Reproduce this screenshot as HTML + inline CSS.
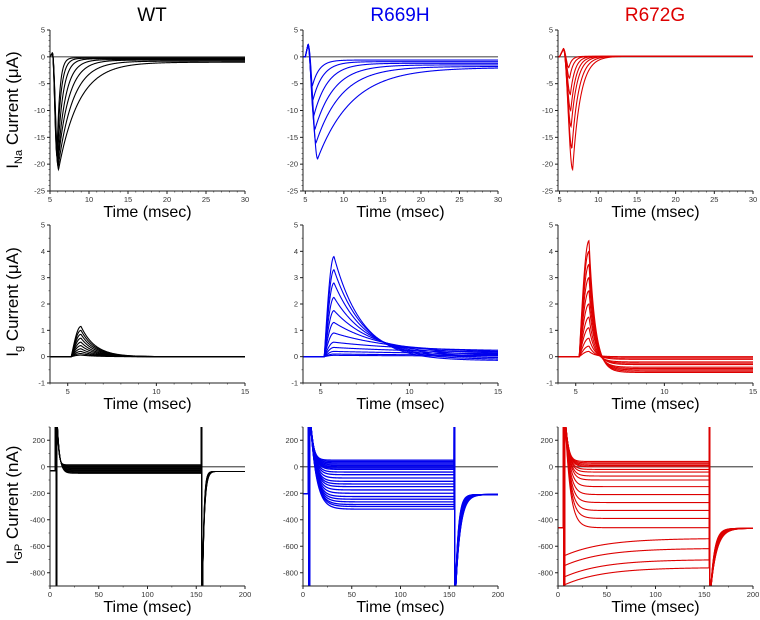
<!DOCTYPE html>
<html><head><meta charset="utf-8">
<style>
html,body{margin:0;padding:0;background:#fff;overflow:hidden;width:760px;height:620px;}
svg{display:block;font-family:"Liberation Sans",sans-serif;}
.tl{font-size:7.5px;fill:#333;}
.at{font-size:16px;fill:#000;}
</style></head>
<body>
<svg id="fig" width="760" height="620" viewBox="0 0 760 620" xmlns="http://www.w3.org/2000/svg">
<text x="152" y="21" font-size="19" text-anchor="middle" fill="#000">WT</text>
<text x="400" y="21" font-size="19" text-anchor="middle" fill="#0000ee">R669H</text>
<text x="655" y="21" font-size="19" text-anchor="middle" fill="#dd0000">R672G</text>
<text transform="translate(18,110) rotate(-90)" font-size="17" text-anchor="middle">I<tspan font-size="11" dy="4">Na</tspan><tspan dy="-4"> Current (μA)</tspan></text>
<text transform="translate(18,302) rotate(-90)" font-size="17" text-anchor="middle">I<tspan font-size="11" dy="4">g</tspan><tspan dy="-4"> Current (μA)</tspan></text>
<text transform="translate(18,505) rotate(-90)" font-size="17" text-anchor="middle">I<tspan font-size="11" dy="4">GP</tspan><tspan dy="-4"> Current (nA)</tspan></text>
</svg>
<script>
// ---- data ----
const naWTPeaks=[-21,-20.5,-20,-19.5,-19,-18.5,-18];
const naWTTpk=[6.1,6.05,6.0,6.0,5.95,5.9,5.9];
const naWTTau=[2.6,1.9,1.4,1.0,0.7,0.5,0.35];
const naWTSS=[-1.0,-0.8,-0.6,-0.5,-0.35,-0.25,-0.15];
const naR669Peaks=[-19,-16,-13.5,-11,-8,-5.5];
const naR669Tpk=[6.6,6.4,6.25,6.1,6.0,5.9];
const naR669Tau=[4.5,3.3,2.5,1.8,1.3,0.9];
const naR669SS=[-2.0,-1.8,-1.5,-1.2,-0.9,-0.6];
const naR672Peaks=[-21,-17,-13,-10,-7,-4,-2];
const naR672Tpk=[6.7,6.6,6.5,6.45,6.4,6.3,6.2];
const naR672Tau=[1.0,0.9,0.8,0.7,0.6,0.5,0.4];
const naR672SS=[0.1,0.1,0.1,0.1,0.1,0.1,0.1];
const gWTPeaks=[1.15,1.0,0.85,0.7,0.55,0.42,0.3,0.2,0.12,0.06];
const gWTTau=[0.8,0.8,0.8,0.8,0.8,0.8,0.8,0.8,0.8,0.8];
const gWTEnd=[0,0,0,0,0,0,0,0,0,0];
const gR669Peaks=[3.8,3.3,2.8,2.25,1.75,1.3,0.9,0.55,0.35,0.2,0.1,0.05];
const gR669Tau=[1.6,1.7,1.8,2.0,2.3,2.8,3.5,4.5,5,6,6,6];
const gR669End=[-0.15,-0.1,-0.05,0,0.05,0.1,0.15,0.2,0.15,0.1,0.05,0.02];
const gR672Peaks=[4.4,4.0,3.5,3.0,2.5,2.0,1.5,1.1,0.7,0.4,0.2];
const gR672Tau=[0.35,0.35,0.35,0.35,0.35,0.35,0.35,0.35,0.35,0.35,0.35];
const gR672End=[-0.6,-0.55,-0.5,-0.45,-0.4,-0.3,-0.25,-0.2,-0.1,-0.05,0];
const gpWTLevels=[15,10,5,0,-5,-10,-15,-20,-25,-30,-35,-40,-45,-50];
const gpWTPre=-30, gpWTPost=-35;
const gpR669Levels=[50,40,30,20,10,0,-10,-20,-40,-60,-85,-110,-130,-150,-175,-200,-225,-245,-265,-285,-300,-320];
const gpR669Pre=-205, gpR669Post=-210;
const gpR672Levels=[40,30,20,10,0,-20,-40,-70,-100,-150,-210,-270,-330,-390,-460,-540,-615,-700,-760];
const gpR672Pre=-460, gpR672Post=-465;
const xTicksNa=[5,10,15,20,25,30], yTicksNa=[5,0,-5,-10,-15,-20,-25];
const xTicksG=[5,10,15], yTicksG=[5,4,3,2,1,0,-1];
const xTicksGP=[0,50,100,150,200], yTicksGP=[200,0,-200,-400,-600,-800];

const svg=document.getElementById('fig');
const NS='http://www.w3.org/2000/svg';
function el(tag,attrs,parent){const e=document.createElementNS(NS,tag);for(const k in attrs)e.setAttribute(k,attrs[k]);(parent||svg).appendChild(e);return e;}
const cols=[[50,245],[303,498],[558,753]];
const rows=[[30,191],[225,383],[427,586]];
const colors=['#000','#0000ee','#dd0000'];
let clipId=0;
function panel(ci,ri,xd,yd,xt,yt,xminor,yminor,name){
  const [px0,px1]=cols[ci],[py0,py1]=rows[ri];
  const sx=v=>px0+(v-xd[0])/(xd[1]-xd[0])*(px1-px0);
  const sy=v=>py0+(yd[1]-v)/(yd[1]-yd[0])*(py1-py0);
  const g=el('g',{});
  
  
  const cid='c'+(clipId++);
  const cp=el('clipPath',{id:cid},g);el('rect',{x:px0,y:py0,width:px1-px0,height:py1-py0},cp);
  const plot=el('g',{'clip-path':'url(#'+cid+')'},g);
  const ax=el('g',{stroke:'#222','stroke-width':1},g);
  el('line',{x1:px0,y1:py0,x2:px0,y2:py1},ax);
  el('line',{x1:px0,y1:py1,x2:px1,y2:py1},ax);
  for(let v=yd[0];v<=yd[1]+1e-9;v+=yminor){const y=sy(v);el('line',{x1:px0-1.5,y1:y,x2:px0,y2:y,'stroke-width':0.6},ax);}
  for(let v=Math.ceil(xd[0]/xminor)*xminor;v<=xd[1]+1e-9;v+=xminor){const x=sx(v);el('line',{x1:x,y1:py1,x2:x,y2:py1+1.5,'stroke-width':0.6},ax);}
  yt.forEach(v=>{const y=sy(v);el('line',{x1:px0-3,y1:y,x2:px0,y2:y},ax);
    const t=el('text',{x:px0-5,y:y+2.5,'text-anchor':'end',class:'tl'},g);t.textContent=v;
    
    });
  xt.forEach(v=>{const x=sx(v);el('line',{x1:x,y1:py1,x2:x,y2:py1+3},ax);
    const t=el('text',{x:x,y:py1+11,'text-anchor':'middle',class:'tl'},g);t.textContent=v;
    
    });
  const tt=el('text',{x:(px0+px1)/2,y:py1+26,'text-anchor':'middle',class:'at'},g);tt.textContent='Time (msec)';
  
  
  return {sx,sy,plot,xd};
}
function drawTrace(p,fn,color,w,name,step){
  let d='';const st=step||(p.xd[1]-p.xd[0])/600;
  for(let t=p.xd[0];t<=p.xd[1]+1e-9;t+=st){const v=fn(t);d+=(d?'L':'M')+p.sx(t).toFixed(2)+' '+p.sy(Math.max(-5000,Math.min(5000,v))).toFixed(2);}
  const path=el('path',{d:d,fill:'none',stroke:color,'stroke-width':w},p.plot);
  
  
}
function zeroLine(p,name){const l=el('line',{x1:p.sx(p.xd[0]),x2:p.sx(p.xd[1]),y1:p.sy(0),y2:p.sy(0),stroke:'#555','stroke-width':1.2},p.plot);
  
  }
function naFn(P,tp,tau,ss,blip,tb){return t=>{
  if(t<5.0)return 0;
  if(t<tb)return blip*(t-5.0)/(tb-5.0);
  if(t<tp){const f=(1-Math.cos(Math.PI*(t-tb)/(tp-tb)))/2;return blip+(P-blip)*f;}
  return ss+(P-ss)*Math.exp(-(t-tp)/tau);};}
const naSets=[[naWTPeaks,naWTTpk,naWTTau,naWTSS,0.7,5.3,[5,30]],[naR669Peaks,naR669Tpk,naR669Tau,naR669SS,2.3,5.35,[4.7,30]],[naR672Peaks,naR672Tpk,naR672Tau,naR672SS,1.5,5.5,[4.8,30]]];
naSets.forEach((s,ci)=>{
  const p=panel(ci,0,s[6],[-25,5],xTicksNa,yTicksNa,1,1,'ina-panel-'+ci);
  zeroLine(p,'ina-zero-line');
  s[0].forEach((P,i)=>drawTrace(p,naFn(P,s[1][i],s[2][i],s[3][i],s[4],s[5]),colors[ci],1.1,'ina-trace'));
});
function gFn(P,tau,end){const tr=5.2,tp=5.75;return t=>{
  if(t<tr)return 0;
  if(t<tp)return P*Math.sin(Math.PI/2*(t-tr)/(tp-tr));
  return end+(P-end)*Math.exp(-(t-tp)/tau);};}
const gSets=[[gWTPeaks,gWTTau,gWTEnd],[gR669Peaks,gR669Tau,gR669End],[gR672Peaks,gR672Tau,gR672End]];
gSets.forEach((s,ci)=>{
  const p=panel(ci,1,[4,15],[-1,5],xTicksG,yTicksG,1,0.5,'ig-panel-'+ci);
  s[0].forEach((P,i)=>drawTrace(p,gFn(P,s[1][i],s[2][i]),colors[ci],1.1,'ig-trace'));
});
// gating-pore traces
function gpFn(L,pre,post,tau1,tau2,thr){
  const below = L<thr;
  const start = below ? L-130 : 420;
  const tr = below ? 40 : tau1;
  return t=>{
  if(t<5.5)return pre;
  if(t<6.2)return pre+6000*(t-5.5);
  if(t<7.0)return -3000;
  if(t<155)return L+(start-L)*Math.exp(-(t-7)/tr);
  if(t<155.6)return 4000;
  if(t<156.4)return -3000;
  return post+(-950-post)*Math.exp(-(t-156.4)/tau2);};}
const gpSets=[[gpWTLevels,gpWTPre,gpWTPost,1.5,1.5,0.9,-1e9],[gpR669Levels,gpR669Pre,gpR669Post,3,3,1.3,-1e9],[gpR672Levels,gpR672Pre,gpR672Post,3,4,1.1,-470]];
gpSets.forEach((s,ci)=>{
  const p=panel(ci,2,[0,200],[-900,300],xTicksGP,yTicksGP,25,100,'igp-panel-'+ci);
  zeroLine(p,'igp-zero-line');
  s[0].forEach((L,i)=>drawTrace(p,gpFn(L,s[1],s[2],s[3]*(1+0.05*i),s[4]*(1+0.03*i),s[6]),colors[ci],s[5],'igp-trace',0.2));
});
</script>
</body></html>
